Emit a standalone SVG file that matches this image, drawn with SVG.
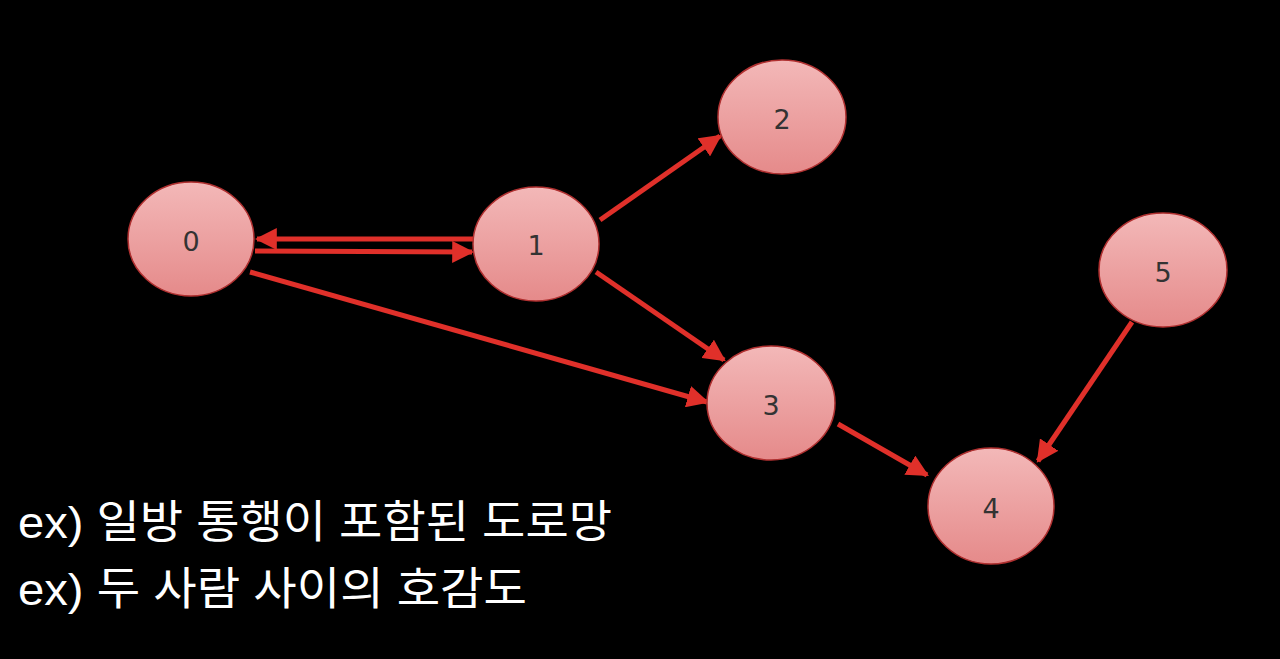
<svg xmlns="http://www.w3.org/2000/svg" width="1280" height="659" viewBox="0 0 1280 659">
<defs>
<linearGradient id="g" x1="0" y1="0" x2="0" y2="1">
<stop offset="0" stop-color="#f3b8b8"/>
<stop offset="1" stop-color="#e58a8a"/>
</linearGradient>
<marker id="ah" viewBox="0 0 10 10" refX="9" refY="5" markerWidth="4.4" markerHeight="4.4" orient="auto" markerUnits="strokeWidth">
<path d="M0,0 L10,5 L0,10 z" fill="#e0302a"/>
</marker>
<style>
.n ellipse{fill:url(#g);stroke:#b03030;stroke-width:1.5}
.n text{font-family:"DejaVu Sans",sans-serif;font-size:27px;fill:#333;text-anchor:middle;dominant-baseline:central}
.e line{stroke:#e0302a;stroke-width:5;marker-end:url(#ah)}
.t{font-family:"Liberation Sans","Noto Sans CJK KR",sans-serif;font-size:45px;fill:#fff}
</style>
</defs>
<rect width="1280" height="659" fill="#000"/>
<g id="connectors" class="e">
<line x1="473" y1="239" x2="257" y2="239"/>
<line x1="255" y1="251" x2="472" y2="252"/>
<line x1="600" y1="220" x2="720" y2="136"/>
<line x1="596" y1="272" x2="724" y2="360"/>
<line x1="250" y1="272" x2="707" y2="402"/>
<line x1="838" y1="424" x2="927" y2="475"/>
<line x1="1132" y1="322" x2="1038" y2="461"/>
</g>
<g id="n0" class="n"><ellipse cx="191" cy="239" rx="63" ry="57"/><text x="191" y="241">0</text></g>
<g id="n1" class="n"><ellipse cx="536" cy="244" rx="63" ry="57"/><text x="536" y="245">1</text></g>
<g id="n2" class="n"><ellipse cx="782" cy="117" rx="64" ry="57"/><text x="782" y="119">2</text></g>
<g id="n3" class="n"><ellipse cx="771" cy="403" rx="64" ry="57"/><text x="771" y="405">3</text></g>
<g id="n4" class="n"><ellipse cx="991" cy="506" rx="63" ry="58"/><text x="991" y="508">4</text></g>
<g id="n5" class="n"><ellipse cx="1163" cy="270" rx="64" ry="57"/><text x="1163" y="272">5</text></g>
<text class="t" x="18" y="538" textLength="594" lengthAdjust="spacingAndGlyphs">ex) 일방 통행이 포함된 도로망</text>
<text class="t" x="18" y="605" textLength="509" lengthAdjust="spacingAndGlyphs">ex) 두 사람 사이의 호감도</text>
</svg>
